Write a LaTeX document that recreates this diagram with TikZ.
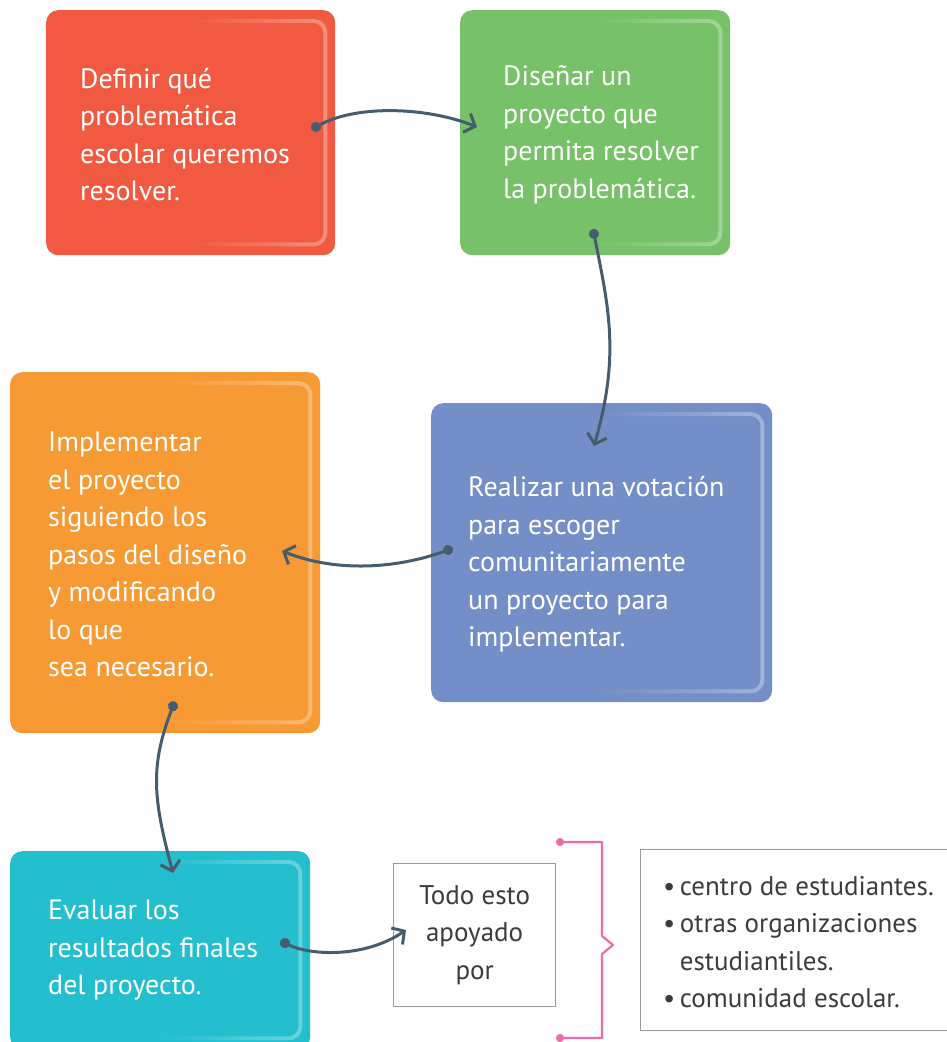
\documentclass[tikz,border=0pt]{standalone}
\usepackage{fontspec}
\setmainfont{PT Sans}
\usetikzlibrary{positioning,arrows.meta,calc,fadings}
\definecolor{cRed}{HTML}{F15A40}
\definecolor{cGreen}{HTML}{77C268}
\definecolor{cOrange}{HTML}{F79A33}
\definecolor{cBlue}{HTML}{748FC7}
\definecolor{cCyan}{HTML}{23BFCE}
\definecolor{cLink}{HTML}{465D6D}
\definecolor{cPink}{HTML}{EE6AA8}
\definecolor{cFrame}{HTML}{9A9A9A}
\definecolor{cInk}{HTML}{3C3C3C}
\tikzfading[name=glintfade, left color=transparent!100, right color=transparent!20]
\newcommand{\glint}[1]{%
	\draw[white, opacity=.4, line width=4, rounded corners=12, path fading=glintfade]
		($(#1.north)+(0,11)$) -| ($(#1.south east)+(-10,-11)$) -- ($(#1.south)+(0,-11)$);}
\begin{document}
\begin{tikzpicture}[x=1pt, y=-1pt, line join=round,
		stepbox/.style={rounded corners=12, inner sep=0, anchor=north west},
		steptext/.style={text=white, align=left, inner sep=0, font=\fontsize{28}{37.5}\selectfont},
		framebox/.style={draw=cFrame, line width=1.3, inner sep=0, anchor=north west},
		plaintext/.style={text=cInk, inner sep=0, font=\fontsize{27}{37.5}\selectfont},
		link/.style={cLink, line width=3, {Circle[length=10pt]}-{Straight Barb[length=9pt, width=20pt]}},
		brace/.style={cPink, line width=2.2, {Circle[length=8pt]}-{Circle[length=8pt]}}]
	\useasboundingbox (0,0) rectangle (947,1042);
	\node[stepbox, fill=cRed, minimum width=289, minimum height=245] (define) at (46,10) {};
	\node[stepbox, fill=cGreen, minimum width=270, minimum height=245] (design) at (460,10) {};
	\node[stepbox, fill=cOrange, minimum width=310, minimum height=361] (build) at (10,372) {};
	\node[stepbox, fill=cBlue, minimum width=341, minimum height=299] (vote) at (431,403) {};
	\node[stepbox, fill=cCyan, minimum width=300, minimum height=198] (assess) at (10,851) {};
	\glint{define}
	\glint{design}
	\glint{build}
	\glint{vote}
	\glint{assess}
	\node[steptext, right=34pt of define.west, yshift=-2pt] (defineT) {Definir qué\\problemática\\escolar queremos\\resolver.};
	\node[steptext, right=43pt of design.west, yshift=-2pt] (designT) {Diseñar un\\proyecto que\\permita resolver\\la problemática.};
	\node[steptext, right=38pt of build.west, yshift=-2pt] (buildT) {Implementar\\el proyecto\\siguiendo los\\pasos del diseño\\y modificando\\lo que\\sea necesario.};
	\node[steptext, right=37pt of vote.west, yshift=-12pt] (voteT) {Realizar una votación\\para escoger\\comunitariamente\\un proyecto para\\implementar.};
	\node[steptext, right=38pt of assess.west] (assessT) {Evaluar los\\resultados finales\\del proyecto.};
	\node[framebox, minimum width=162, minimum height=143] (support) at (393,863) {};
	\node[plaintext, align=center] (supportT) at (support.center) {Todo esto\\apoyado\\por};
	\node[framebox, minimum width=320, minimum height=181] (groups) at (640,849) {};
	\node[plaintext, align=left, right=23pt of groups.west, yshift=-2pt] (groupsT) {•\,centro de estudiantes.\\•\,otras organizaciones\\\hphantom{•\,}estudiantiles.\\•\,comunidad escolar.};
	\coordinate (l1a) at (311.6,129.4);
	\coordinate (l1b) at (477,127);
	\coordinate (l2a) at (593,229);
	\coordinate (l2b) at (594,446);
	\coordinate (l3a) at (452.7,548.3);
	\coordinate (l3b) at (282,551);
	\coordinate (l4a) at (174.8,701.4);
	\coordinate (l4b) at (173,873);
	\coordinate (l5a) at (280.5,940.8);
	\coordinate (l5b) at (406,930);
	\draw[link] (l1a) .. controls +(45,-25) and +(-50,-20) .. (l1b);
	\draw[link] (l2a) .. controls +(16,80) and +(26,-90) .. (l2b);
	\draw[link] (l3a) .. controls +(-55,20) and +(55,22) .. (l3b);
	\draw[link] (l4a) .. controls +(-25,65) and +(-20,-75) .. (l4b);
	\draw[link] (l5a) .. controls +(30,15) and +(-41,28) .. (l5b);
	\coordinate (bt) at (556,842);
	\coordinate (bb) at (556,1038);
	\draw[brace] (bt) -- (602,842) -- (602,936) -- (613,945) -- (602,954) -- (602,1038) -- (bb);
\end{tikzpicture}
\end{document}
